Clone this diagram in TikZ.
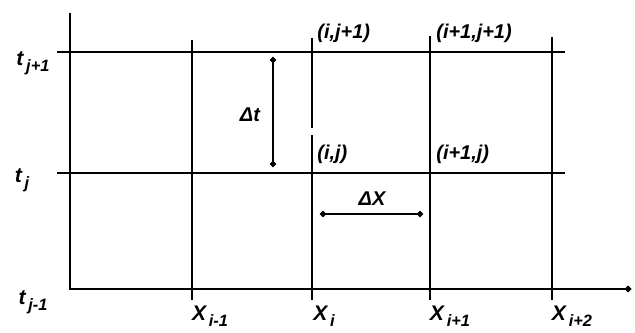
\documentclass[tikz,border=0pt]{standalone}
\usepackage{fontspec}
\setmainfont{Liberation Sans}
\usetikzlibrary{arrows.meta,positioning}
\newcommand{\lowidx}[1]{\raisebox{-0.55ex}{\fontsize{14}{15}\selectfont\,#1}}

\begin{document}
\begin{tikzpicture}[x=0.03cm,y=-0.03cm,
  gridline/.style={line width=2.1pt},
  lab/.style={font=\fontsize{17}{19}\selectfont\bfseries\itshape,inner sep=1pt},
  axlab/.style={font=\fontsize{18}{20}\selectfont\bfseries\itshape,inner sep=1pt},
  dim/.style={{Circle[length=5pt]}-{Circle[length=5pt]},line width=1.8pt}
]
\useasboundingbox (0,0) rectangle (635,333);
% axes
\coordinate (ytop) at (70,13);
\coordinate (orig) at (70,289);
\coordinate (xend) at (631,289);
\draw[gridline,-{Circle[length=5pt]}] (ytop) -- (orig) -- (xend);
% time levels
\coordinate (tupL) at (57,52);  \coordinate (tupR) at (565,52);
\coordinate (tmidL) at (57,173); \coordinate (tmidR) at (565,173);
\draw[gridline] (tupL) -- (tupR);
\draw[gridline] (tmidL) -- (tmidR);
% space levels
\coordinate (xa1) at (192,40);  \coordinate (xa2) at (192,300);
\coordinate (xb1) at (312,38);  \coordinate (xbg1) at (312,128);
\coordinate (xbg2) at (312,135); \coordinate (xb2) at (312,300);
\coordinate (xc1) at (430,36);  \coordinate (xc2) at (430,300);
\coordinate (xd1) at (552,37);  \coordinate (xd2) at (552,300);
\draw[gridline] (xa1) -- (xa2);
\draw[gridline] (xb1) -- (xbg1);
\draw[gridline] (xbg2) -- (xb2);
\draw[gridline] (xc1) -- (xc2);
\draw[gridline] (xd1) -- (xd2);
% steps
\coordinate (dt1) at (273,57);  \coordinate (dt2) at (273,167);
\coordinate (dx1) at (320,214); \coordinate (dx2) at (423,214);
\draw[dim] (dt1) -- (dt2);
\draw[dim] (dx1) -- (dx2);
\node[lab] (dtlab) at (250,115) {Δt};
\node[lab] (dxlab) at (372,199) {ΔX};
% grid points
\node[lab,anchor=west] (pij1) at (316,33) {(i,j+1)};
\node[lab,anchor=west] (pi1j1) at (435,33) {(i+1,j+1)};
\node[lab,anchor=west] (pij) at (316,154) {(i,j)};
\node[lab,anchor=west] (pi1j) at (435,154) {(i+1,j)};
% axis labels
\node[axlab] (tup) at (33,63) {t\lowidx{j+1}};
\node[axlab] (tmid) at (22,180) {t\lowidx{j}};
\node[axlab] (tlow) at (33,302) {t\lowidx{j-1}};
\node[axlab] (xa) at (210,316) {X\lowidx{i-1}};
\node[axlab] (xb) at (324,316) {X\lowidx{i}};
\node[axlab] (xc) at (450,316) {X\lowidx{i+1}};
\node[axlab] (xd) at (572,316) {X\lowidx{i+2}};
\end{tikzpicture}
\end{document}
